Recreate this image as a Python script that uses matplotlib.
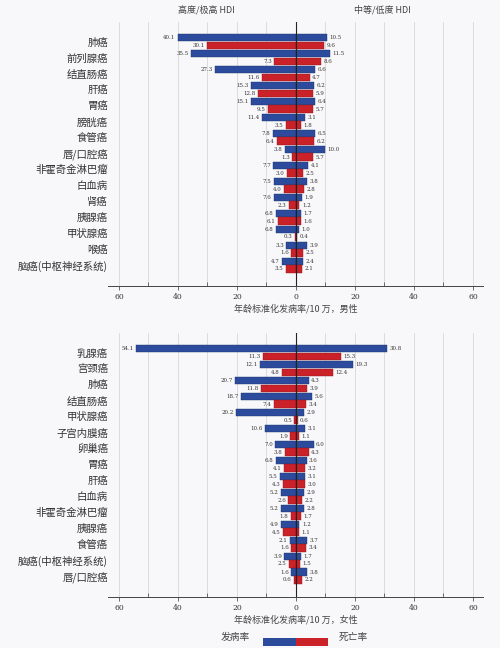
import matplotlib
matplotlib.use('Agg')
import matplotlib.pyplot as plt
from matplotlib.patches import Rectangle
import numpy as np

plt.rcParams['font.family'] = ['Noto Sans CJK SC', 'DejaVu Sans']

# male panel
male_labels = ['肺癌', '前列腺癌', '结直肠癌', '肝癌', '胃癌', '膀胱癌', '食管癌', '唇/口腔癌',
               '非霍奇金淋巴瘤', '白血病', '肾癌', '胰腺癌', '甲状腺癌', '喉癌', '脑癌(中枢神经系统)']
male_hi_inc = [40.1, 35.5, 27.3, 15.3, 15.1, 11.4, 7.8, 3.8, 7.7, 7.5, 7.6, 6.8, 6.8, 3.3, 4.7]
male_hi_mort = [30.1, 7.3, 11.6, 12.8, 9.5, 3.5, 6.4, 1.3, 3.0, 4.0, 2.3, 6.1, 0.3, 1.6, 3.5]
male_lo_inc = [10.5, 11.5, 6.6, 6.2, 6.4, 3.1, 6.5, 10.0, 4.1, 3.8, 1.9, 1.7, 1.0, 3.9, 2.4]
male_lo_mort = [9.6, 8.6, 4.7, 5.9, 5.7, 1.8, 6.2, 5.7, 2.5, 2.8, 1.2, 1.6, 0.4, 2.5, 2.1]

# female panel
female_labels = ['乳腺癌', '宫颈癌', '肺癌', '结直肠癌', '甲状腺癌', '子宫内膜癌', '卵巢癌', '胃癌',
                 '肝癌', '白血病', '非霍奇金淋巴瘤', '胰腺癌', '食管癌', '脑癌(中枢神经系统)', '唇/口腔癌']
female_hi_inc = [54.1, 12.1, 20.7, 18.7, 20.2, 10.6, 7.0, 6.8, 5.5, 5.2, 5.2, 4.9, 2.1, 3.9, 1.6]
female_hi_mort = [11.3, 4.8, 11.8, 7.4, 0.5, 1.9, 3.8, 4.1, 4.3, 2.6, 1.8, 4.5, 1.6, 2.5, 0.6]
female_lo_inc = [30.8, 19.3, 4.3, 5.6, 2.9, 3.1, 6.0, 3.6, 3.1, 2.9, 2.8, 1.2, 3.7, 1.7, 3.8]
female_lo_mort = [15.3, 12.4, 3.9, 3.4, 0.6, 1.1, 4.3, 3.2, 3.0, 2.2, 1.7, 1.1, 3.4, 1.5, 2.2]

blue = '#2c4b9c'
red = '#cb2128'
txt = '#333333'

fig = plt.figure(figsize=(5, 6.48), dpi=100)
fig.patch.set_facecolor('#f8f8fa')


def draw_panel(ax, labels, hi_inc, hi_mort, lo_inc, lo_mort, xlabel):
    y = np.arange(len(labels))
    h = 0.47
    hi_inc = np.array(hi_inc)
    hi_mort = np.array(hi_mort)
    lo_inc = np.array(lo_inc)
    lo_mort = np.array(lo_mort)

    ax.set_facecolor('#f8f8fa')
    for gx in range(-60, 61, 10):
        if gx != 0:
            ax.axvline(gx, color='#dcdcdc', lw=0.7, zorder=0)

    ax.barh(y - 0.24, -hi_inc, height=h, color=blue, edgecolor='#1d336e', lw=0.3, zorder=2)
    ax.barh(y - 0.24, lo_inc, height=h, color=blue, edgecolor='#1d336e', lw=0.3, zorder=2)
    ax.barh(y + 0.24, -hi_mort, height=h, color=red, edgecolor='#8e161b', lw=0.3, zorder=2)
    ax.barh(y + 0.24, lo_mort, height=h, color=red, edgecolor='#8e161b', lw=0.3, zorder=2)
    ax.axvline(0, color='#222222', lw=0.8, zorder=3)

    for i in range(len(labels)):
        ax.text(-hi_inc[i] - 0.8, y[i] - 0.24, f'{hi_inc[i]:.1f}', ha='right', va='center',
                fontsize=4, color=txt, family='DejaVu Serif')
        ax.text(-hi_mort[i] - 0.8, y[i] + 0.24, f'{hi_mort[i]:.1f}', ha='right', va='center',
                fontsize=4, color=txt, family='DejaVu Serif')
        ax.text(lo_inc[i] + 0.8, y[i] - 0.24, f'{lo_inc[i]:.1f}', ha='left', va='center',
                fontsize=4, color=txt, family='DejaVu Serif')
        ax.text(lo_mort[i] + 0.8, y[i] + 0.24, f'{lo_mort[i]:.1f}', ha='left', va='center',
                fontsize=4, color=txt, family='DejaVu Serif')

    ax.set_xlim(-63.7, 63.4)
    ax.set_ylim(len(labels) + 0.31, -1.22)
    ax.set_yticks(y)
    ax.set_yticklabels(labels, fontsize=7.5, color='#333333')
    ax.tick_params(axis='y', length=0, pad=0)
    ax.set_xticks([-60, -40, -20, 0, 20, 40, 60])
    ax.set_xticklabels(['60', '40', '20', '0', '20', '40', '60'], fontsize=5.5, color='#333333',
                       family='DejaVu Serif')
    ax.set_xticks([-50, -30, -10, 10, 30, 50], minor=True)
    ax.tick_params(axis='x', which='major', length=3, width=0.6, color='#555555', pad=2)
    ax.tick_params(axis='x', which='minor', length=3, width=0.6, color='#555555', direction='in')
    for s in ['top', 'left', 'right']:
        ax.spines[s].set_visible(False)
    ax.spines['bottom'].set_color('#444444')
    ax.spines['bottom'].set_linewidth(0.7)
    ax.set_xlabel(xlabel, fontsize=6.5, color='#444444', labelpad=2)


ax1 = fig.add_axes([0.216, 0.5586, 0.75, 0.4074])
draw_panel(ax1, male_labels, male_hi_inc, male_hi_mort, male_lo_inc, male_lo_mort,
           '年龄标准化发病率/10 万，男性')

ax2 = fig.add_axes([0.216, 0.0787, 0.75, 0.4074])
draw_panel(ax2, female_labels, female_hi_inc, female_hi_mort, female_lo_inc, female_lo_mort,
           '年龄标准化发病率/10 万，女性')

fig.text(0.412, 0.992, '高度/极高 HDI', ha='center', va='top', fontsize=6.5, color='#444444')
fig.text(0.764, 0.992, '中等/低度 HDI', ha='center', va='top', fontsize=6.5, color='#444444')

# legend
fig.text(0.47, 0.009, '发病率', ha='center', va='bottom', fontsize=7, color='#444444')
fig.text(0.706, 0.009, '死亡率', ha='center', va='bottom', fontsize=7, color='#444444')
fig.add_artist(Rectangle((0.526, 0.0035), 0.066, 0.0125, transform=fig.transFigure,
                         facecolor=blue, edgecolor='none'))
fig.add_artist(Rectangle((0.592, 0.0035), 0.064, 0.0125, transform=fig.transFigure,
                         facecolor=red, edgecolor='none'))

fig.savefig('out.png', dpi=100, facecolor=fig.get_facecolor())
